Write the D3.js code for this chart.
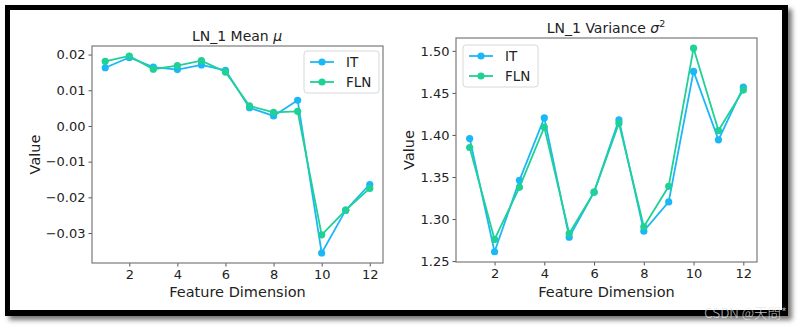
<!DOCTYPE html>
<html><head><meta charset="utf-8">
<script src="https://cdn.jsdelivr.net/npm/d3@7"></script>
<style>body{margin:0;background:#fff;}svg{display:block;font-family:"DejaVu Sans",sans-serif;}</style>
</head><body>
<svg id="c" width="801" height="329"></svg>
<script>
const dims = [1,2,3,4,5,6,7,8,9,10,11,12];
const meanIT  = [0.0163,0.0192,0.0165,0.0158,0.0171,0.0156,0.0051,0.0028,0.0072,-0.0356,-0.0236,-0.0164];
const meanFLN = [0.0181,0.0196,0.0159,0.0169,0.0183,0.0151,0.0056,0.0038,0.0041,-0.0305,-0.0236,-0.0175];
const varIT   = [1.3957,1.2611,1.3460,1.4203,1.2784,1.3320,1.4179,1.2856,1.3204,1.4756,1.3942,1.4570];
const varFLN  = [1.3851,1.2757,1.3377,1.4092,1.2828,1.3320,1.4140,1.2908,1.3389,1.5032,1.4052,1.4534];
const seriesNames = ["IT","FLN"];
const colors = ["#1cb8f6","#1fd197"];
const xTicks = [2,4,6,8,10,12];
const meanTicks = [0.02,0.01,0.00,-0.01,-0.02,-0.03];
const varTicks = [1.25,1.30,1.35,1.40,1.45,1.50];

const svg = d3.select("#c");
const defs = svg.append("defs");
const f = defs.append("filter").attr("id","blur").attr("x","-10%").attr("y","-10%").attr("width","120%").attr("height","120%");
f.append("feGaussianBlur").attr("stdDeviation",2.5);

// frame shadow + border
svg.append("rect").attr("x",9).attr("y",9).attr("width",783).attr("height",311).attr("fill","#777").attr("filter","url(#blur)");
svg.append("rect").attr("x",5).attr("y",5).attr("width",783).attr("height",311).attr("fill","#000");
svg.append("rect").attr("x",10).attr("y",10).attr("width",772).attr("height",300).attr("fill","#fff");

function panel(o){
  const g = svg.append("g");
  const x = d3.scaleLinear().domain([0.45,12.55]).range([o.left,o.right]);
  const y = d3.scaleLinear().domain(o.ydom).range([o.bottom,o.top]);
  const fmt = d3.format(".2f");
  const xa = g.append("g").attr("transform",`translate(0,${o.bottom})`)
    .call(d3.axisBottom(x).tickValues(xTicks).tickSize(3.5).tickPadding(3).tickFormat(d3.format("d")));
  const ya = g.append("g").attr("transform",`translate(${o.left},0)`)
    .call(d3.axisLeft(y).tickValues(o.ticks).tickSize(3.5).tickPadding(3).tickFormat(fmt));
  [xa,ya].forEach(a=>{
    a.select(".domain").remove();
    a.selectAll("line").attr("stroke","#555");
    a.selectAll("text").attr("font-size",13).attr("fill","#222").attr("font-family","DejaVu Sans");
  });
  g.append("rect").attr("x",o.left).attr("y",o.top).attr("width",o.right-o.left).attr("height",o.bottom-o.top)
    .attr("fill","none").attr("stroke","#7a7a7a").attr("stroke-width",1.2);
  o.series.forEach((s,i)=>{
    const line = d3.line().x((d,j)=>x(dims[j])).y(d=>y(d));
    g.append("path").datum(s).attr("d",line).attr("fill","none").attr("stroke",colors[i]).attr("stroke-width",1.8);
    g.selectAll(null).data(s).enter().append("circle")
      .attr("cx",(d,j)=>x(dims[j])).attr("cy",d=>y(d)).attr("r",3.6).attr("fill",colors[i]);
  });
  g.append("text").attr("x",(o.left+o.right)/2).attr("y",297).attr("text-anchor","middle")
    .attr("font-size",14.5).attr("fill","#222").text("Feature Dimension");
  g.append("text").attr("transform",`translate(${o.ylabX},${(o.top+o.bottom)/2}) rotate(-90)`).attr("text-anchor","middle")
    .attr("font-size",14.5).attr("fill","#222").text("Value");
  const lg = g.append("g").attr("transform",`translate(${o.legX},${o.legY})`);
  lg.append("rect").attr("width",75).attr("height",42).attr("rx",3).attr("fill","#fff").attr("stroke","#d8d8d8");
  seriesNames.forEach((n,i)=>{
    const yy = 11 + i*20;
    lg.append("line").attr("x1",6).attr("x2",30).attr("y1",yy).attr("y2",yy).attr("stroke",colors[i]).attr("stroke-width",1.8);
    lg.append("circle").attr("cx",18).attr("cy",yy).attr("r",3.6).attr("fill",colors[i]);
    lg.append("text").attr("x",42).attr("y",yy+4.5).attr("font-size",13.5).attr("fill","#222").text(n);
  });
  return g;
}

const p1 = panel({left:92,right:383,top:46,bottom:263,ydom:[-0.0384,0.0224],ticks:meanTicks,
  series:[meanIT,meanFLN],ylabX:40,legX:304,legY:51});
const t1 = p1.append("text").attr("x",237).attr("y",41).attr("text-anchor","middle").attr("font-size",14).attr("fill","#222");
t1.append("tspan").text("LN_1 Mean ");
t1.append("tspan").attr("font-style","italic").text("μ");
const p2 = panel({left:456,right:757,top:38,bottom:262,ydom:[1.2489,1.5153],ticks:varTicks,
  series:[varIT,varFLN],ylabX:414,legX:463,legY:45});
const t = p2.append("text").attr("x",606).attr("y",33).attr("text-anchor","middle").attr("font-size",14).attr("fill","#222");
t.append("tspan").text("LN_1 Variance ");
t.append("tspan").attr("font-style","italic").text("σ");
t.append("tspan").attr("font-size",9.5).attr("dy",-6).text("2");

svg.append("text").attr("x",787).attr("y",318).attr("text-anchor","end").attr("font-size",13.5)
  .attr("font-family","Noto Sans CJK SC, sans-serif").attr("font-weight",300).attr("fill","#e6e6e6").attr("fill-opacity",0.85).text("CSDN @天問*");
</script>
</body></html>
